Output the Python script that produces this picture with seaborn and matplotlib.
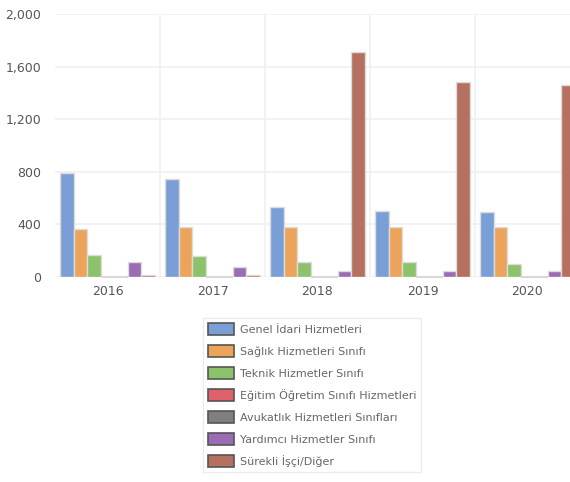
import matplotlib
matplotlib.use("Agg")
import matplotlib.pyplot as plt
import seaborn as sns
import pandas as pd
from matplotlib.ticker import FuncFormatter, MultipleLocator
from matplotlib.patches import Patch

years = ["2016", "2017", "2018", "2019", "2020"]
series = [
    "Genel İdari Hizmetleri",
    "Sağlık Hizmetleri Sınıfı",
    "Teknik Hizmetler Sınıfı",
    "Eğitim Öğretim Sınıfı Hizmetleri",
    "Avukatlık Hizmetleri Sınıfları",
    "Yardımcı Hizmetler Sınıfı",
    "Sürekli İşçi/Diğer",
]
genel = [790, 745, 532, 502, 494]
saglik = [365, 380, 380, 380, 380]
teknik = [167, 160, 114, 114, 99]
egitim = [0, 0, 0, 0, 0]
avukat = [0, 0, 0, 0, 0]
yardimci = [114, 76, 46, 46, 46]
surekli = [14, 14, 1711, 1483, 1460]
values = [genel, saglik, teknik, egitim, avukat, yardimci, surekli]
colors = ["#7a9fd6", "#eca35a", "#8cc36a", "#e0606a", "#7f7f7f", "#9c6bb5", "#b5705f"]

rows = []
for s, vals in zip(series, values):
    for y, v in zip(years, vals):
        rows.append({"Yıl": y, "Seri": s, "Değer": v})
df = pd.DataFrame(rows)

sns.set_style("white")
plt.rcParams['font.family'] = ['DejaVu Sans']

fig = plt.figure(figsize=(5.7, 4.82), dpi=100)
W, H = 570, 482
ax = fig.add_axes([55 / W, 1 - 277 / H, 525 / W, (277 - 14) / H])

sns.barplot(data=df, x="Yıl", y="Değer", hue="Seri", hue_order=series,
            palette=colors, width=0.9, gap=0, ax=ax, legend=False,
            edgecolor="#dcdcdc", linewidth=1.0, saturation=1)
for p in ax.patches:
    if p.get_height() == 0:
        p.set_edgecolor("#d8d8d8")
        p.set_linewidth(1.5)
        p.set_clip_on(False)

ax.set_ylim(0, 2000)
ax.set_xlim(-0.5, 4.5)
ax.yaxis.set_major_locator(MultipleLocator(400))
ax.yaxis.set_major_formatter(FuncFormatter(lambda v, p: f"{int(v):,}"))
ax.grid(axis="y", color="#f0f0f0", linewidth=1.2)
ax.set_axisbelow(True)
for xb in [0.5, 1.5, 2.5, 3.5]:
    ax.axvline(xb, color="#f0f0f0", linewidth=1.2, zorder=0)
for sp in ax.spines.values():
    sp.set_visible(False)
ax.set_xlabel("")
ax.set_ylabel("")
ax.tick_params(axis="both", length=0, labelsize=9, colors="#555555", pad=6)
ax.tick_params(axis="y", pad=10)

handles = [Patch(facecolor=c, edgecolor="#555555", linewidth=1.2) for c in colors]
leg = fig.legend(handles, series, loc="upper left", bbox_to_anchor=(203 / W, 1 - 318 / H),
                 fontsize=8, frameon=True, labelspacing=0.92, handlelength=2.35,
                 handleheight=1.25, handletextpad=0.5, borderpad=0.45, borderaxespad=0,
                 labelcolor="#666666", fancybox=False, edgecolor="#e8e8e8")
fig.savefig("out.png", dpi=100)
